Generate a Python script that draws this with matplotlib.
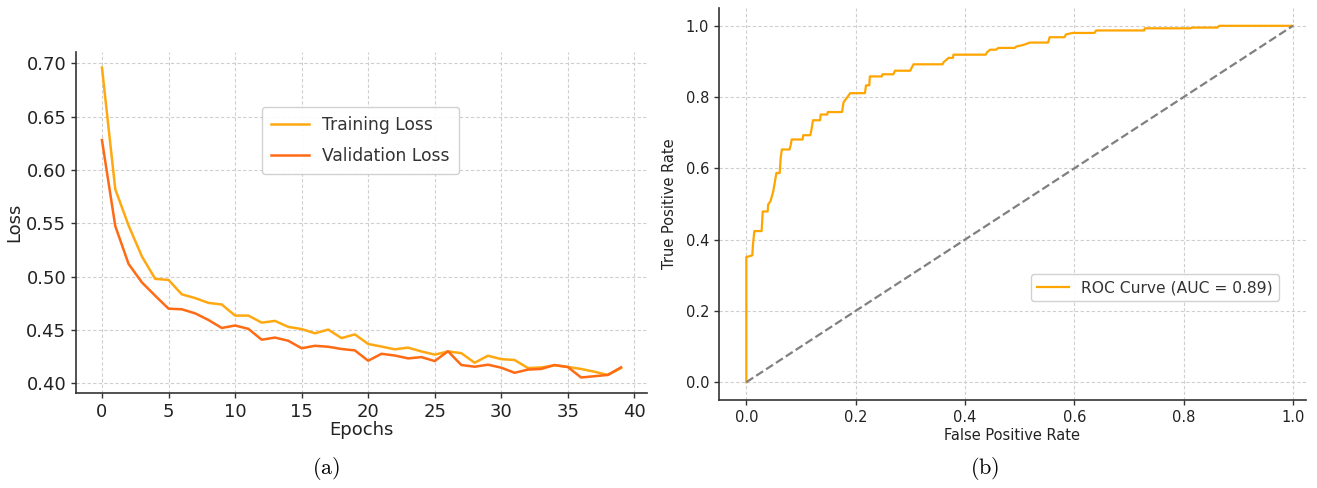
import matplotlib
matplotlib.use("Agg")
import matplotlib.pyplot as plt

plt.rcParams["mathtext.fontset"] = "cm"

# (a) loss curves
epochs = list(range(40))
train_loss = [0.696, 0.582, 0.548, 0.519, 0.498, 0.497, 0.4835, 0.480, 0.4755, 0.474,
              0.4636, 0.4636, 0.457, 0.4586, 0.453, 0.451, 0.447, 0.4505, 0.4425, 0.446,
              0.437, 0.4346, 0.432, 0.4336, 0.430, 0.427, 0.430, 0.4284, 0.4194, 0.426,
              0.4228, 0.422, 0.4145, 0.415, 0.417, 0.4155, 0.4136, 0.411, 0.408, 0.4145]
val_loss = [0.628, 0.5475, 0.512, 0.4947, 0.4822, 0.4701, 0.4695, 0.4657, 0.4595, 0.452,
            0.4543, 0.4512, 0.441, 0.443, 0.440, 0.433, 0.4353, 0.4344, 0.4323, 0.431,
            0.4213, 0.4278, 0.4262, 0.4235, 0.4247, 0.421, 0.4302, 0.4173, 0.4157, 0.4176,
            0.4148, 0.410, 0.413, 0.4136, 0.4173, 0.4154, 0.4056, 0.4068, 0.408, 0.4151]

# (b) ROC curve corners
fpr = [0.000, 0.000, 0.011, 0.012, 0.0146, 0.028, 0.030, 0.039, 0.040, 0.044,
       0.049, 0.052, 0.055, 0.061, 0.063, 0.065, 0.079, 0.081, 0.083, 0.103,
       0.104, 0.117, 0.119, 0.122, 0.135, 0.136, 0.148, 0.149, 0.175, 0.178,
       0.184, 0.190, 0.217, 0.219, 0.225, 0.226, 0.248, 0.249, 0.269, 0.272,
       0.300, 0.303, 0.306, 0.359, 0.361, 0.370, 0.378, 0.379, 0.438, 0.440,
       0.446, 0.457, 0.461, 0.491, 0.494, 0.506, 0.519, 0.552, 0.555, 0.582,
       0.585, 0.597, 0.637, 0.640, 0.728, 0.729, 0.813, 0.815, 0.862, 0.865,
       1.000]
tpr = [0.000, 0.351, 0.356, 0.384, 0.424, 0.424, 0.479, 0.479, 0.499, 0.507,
       0.534, 0.560, 0.587, 0.587, 0.632, 0.653, 0.653, 0.664, 0.681, 0.681,
       0.693, 0.693, 0.707, 0.735, 0.735, 0.751, 0.751, 0.758, 0.758, 0.786,
       0.798, 0.811, 0.811, 0.833, 0.833, 0.858, 0.858, 0.864, 0.864, 0.874,
       0.874, 0.884, 0.892, 0.892, 0.898, 0.910, 0.910, 0.919, 0.919, 0.925,
       0.933, 0.933, 0.938, 0.938, 0.942, 0.946, 0.953, 0.953, 0.968, 0.968,
       0.976, 0.980, 0.980, 0.987, 0.987, 0.993, 0.993, 0.995, 0.995, 1.000,
       1.000]
auc_label = "ROC Curve (AUC = 0.89)"

W, H = 1317, 488
fig = plt.figure(figsize=(W / 100, H / 100), dpi=100)


def px_axes(x0, y0, x1, y1):
    return fig.add_axes([x0 / W, (H - y1) / H, (x1 - x0) / W, (y1 - y0) / H])


def style(ax, fs):
    for s in ["top", "right"]:
        ax.spines[s].set_visible(False)
    for s in ["left", "bottom"]:
        ax.spines[s].set_color("#333333")
        ax.spines[s].set_linewidth(1.2)
    ax.tick_params(colors="#333333", labelcolor="#222222", labelsize=fs,
                   length=3.5, width=1)
    ax.grid(True, linestyle=(0, (3, 2)), color="#cfcfcf", linewidth=0.8)
    ax.set_axisbelow(True)


# left panel
ax1 = px_axes(76, 52, 647, 393)
ax1.plot(epochs, train_loss, color="#FFA812", lw=1.8, label="Training Loss")
ax1.plot(epochs, val_loss, color="#FF6A14", lw=1.8, label="Validation Loss")
ax1.set_xticks(range(0, 41, 5))
ax1.set_yticks([0.40, 0.45, 0.50, 0.55, 0.60, 0.65, 0.70])
style(ax1, 13)
ax1.set_xlabel("Epochs", fontsize=13, color="#222222", labelpad=0)
ax1.set_ylabel("Loss", fontsize=13, color="#222222", labelpad=2)
leg1 = ax1.legend(loc="upper left", bbox_to_anchor=(0.31, 0.865), fontsize=12.3,
                  handlelength=2.2, labelspacing=0.75, borderpad=0.55,
                  framealpha=0.9, edgecolor="#cccccc")
for t in leg1.get_texts():
    t.set_color("#333333")

# right panel
ax2 = px_axes(719, 8, 1306, 400)
ax2.plot(fpr, tpr, color="#FFA500", lw=1.6, label=auc_label)
ax2.plot([0, 1], [0, 1], color="#808080", lw=1.6, linestyle="--")
ax2.set_xlim(-0.05, 1.024)
ax2.set_ylim(-0.05, 1.05)
ax2.set_xticks([0.0, 0.2, 0.4, 0.6, 0.8, 1.0])
ax2.set_yticks([0.0, 0.2, 0.4, 0.6, 0.8, 1.0])
style(ax2, 10.5)
ax2.set_xlabel("False Positive Rate", fontsize=10.5, color="#222222", labelpad=2)
ax2.set_ylabel("True Positive Rate", fontsize=10.5, color="#222222", labelpad=6)
leg2 = ax2.legend(loc="lower right", bbox_to_anchor=(0.967, 0.232), fontsize=11.2,
                  framealpha=0.9, edgecolor="#cccccc")
for t in leg2.get_texts():
    t.set_color("#333333")

fig.text(326 / W, 1 - 468 / H, r"$\mathrm{(a)}$", fontsize=16, ha="center", va="center")
fig.text(985 / W, 1 - 468 / H, r"$\mathrm{(b)}$", fontsize=16, ha="center", va="center")

fig.savefig("out.png", dpi=100)
